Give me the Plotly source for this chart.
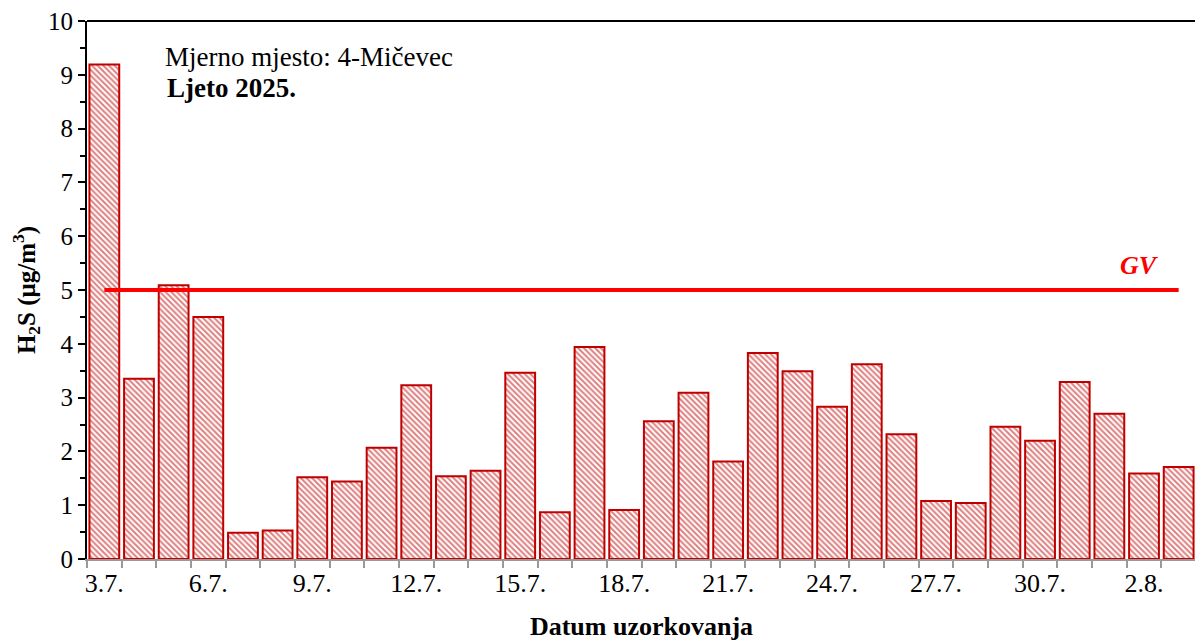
import plotly.graph_objects as go

dates = ["3.7.", "4.7.", "5.7.", "6.7.", "7.7.", "8.7.", "9.7.", "10.7.", "11.7.", "12.7.",
         "13.7.", "14.7.", "15.7.", "16.7.", "17.7.", "18.7.", "19.7.", "20.7.", "21.7.", "22.7.",
         "23.7.", "24.7.", "25.7.", "26.7.", "27.7.", "28.7.", "29.7.", "30.7.", "31.7.", "1.8.",
         "2.8.", "3.8."]
h2s = [9.19, 3.35, 5.09, 4.50, 0.49, 0.53, 1.52, 1.44, 2.07, 3.23,
       1.54, 1.64, 3.46, 0.87, 3.94, 0.91, 2.56, 3.09, 1.81, 3.83,
       3.49, 2.83, 3.62, 2.32, 1.08, 1.04, 2.46, 2.20, 3.29, 2.70,
       1.59, 1.71]
gv_value = 5
label_step = 3

idx = list(range(len(dates)))
tick_pos = idx[::label_step]
tick_txt = dates[::label_step]

FONT = "Liberation Serif"
RED_DARK = "#C00000"

fig = go.Figure()
fig.add_trace(go.Bar(
    x=idx, y=h2s,
    marker=dict(
        color="white",
        line=dict(color=RED_DARK, width=2),
        pattern=dict(shape="\\", fgcolor=RED_DARK, bgcolor="white", size=4, solidity=0.5),
    ),
    showlegend=False,
))
fig.add_trace(go.Scatter(
    x=[idx[0], idx[-1]], y=[gv_value, gv_value], mode="lines",
    line=dict(color="#FF0000", width=4), showlegend=False,
))

fig.update_layout(
    width=1195, height=634,
    margin=dict(l=79, r=7, t=13, b=83),
    paper_bgcolor="white", plot_bgcolor="white",
    bargap=0.14,
    font=dict(family=FONT, size=25, color="black"),
    xaxis=dict(
        range=[-0.5, len(dates) - 0.5], automargin=False,
        tickmode="array", tickvals=tick_pos, ticktext=tick_txt,
        ticks="", showgrid=False, zeroline=False,
        showline=True, linecolor="#999999", linewidth=2,
        tickfont=dict(family=FONT, size=26, color="black"),
        ticklabeloverflow="allow",
        minor=dict(tickmode="linear", tick0=-0.5, dtick=1, ticks="outside",
                   ticklen=7, tickwidth=2, tickcolor="#999999", showgrid=False),
        title=dict(text="<b>Datum uzorkovanja</b>", font=dict(family=FONT, size=26), standoff=20),
    ),
    yaxis=dict(
        range=[0, 10], dtick=1, tick0=0, automargin=False,
        ticks="outside", ticklen=7, tickwidth=2, tickcolor="black",
        showgrid=False, zeroline=False,
        showline=True, linecolor="black", linewidth=2, mirror=True,
        tickfont=dict(family=FONT, size=25, color="black"),
        ticklabeloverflow="allow",
        minor=dict(dtick=0.5, ticks="outside", ticklen=5, tickwidth=2, tickcolor="black", showgrid=False),
        title=dict(text="<b>H<sub>2</sub>S (μg/m<sup>3</sup>)</b>", font=dict(family=FONT, size=25), standoff=22),
    ),
    shapes=[dict(type="line", xref="paper", yref="paper", x0=0, x1=1, y0=1, y1=1,
                 line=dict(color="black", width=2))],
    annotations=[
        dict(text="Mjerno mjesto: 4-Mičevec", xref="paper", yref="paper", x=0.0687, y=0.933,
             xanchor="left", yanchor="middle", showarrow=False,
             font=dict(family=FONT, size=27, color="black")),
        dict(text="<b>Ljeto 2025.</b>", xref="paper", yref="paper", x=0.0705, y=0.875,
             xanchor="left", yanchor="middle", showarrow=False,
             font=dict(family=FONT, size=27, color="black")),
        dict(text="<b><i>GV</i></b>", xref="paper", yref="y", x=0.949, y=gv_value,
             xanchor="center", yanchor="bottom", yshift=8, showarrow=False,
             font=dict(family=FONT, size=26, color="#FF0000")),
    ],
)

fig.write_html("out.html")
